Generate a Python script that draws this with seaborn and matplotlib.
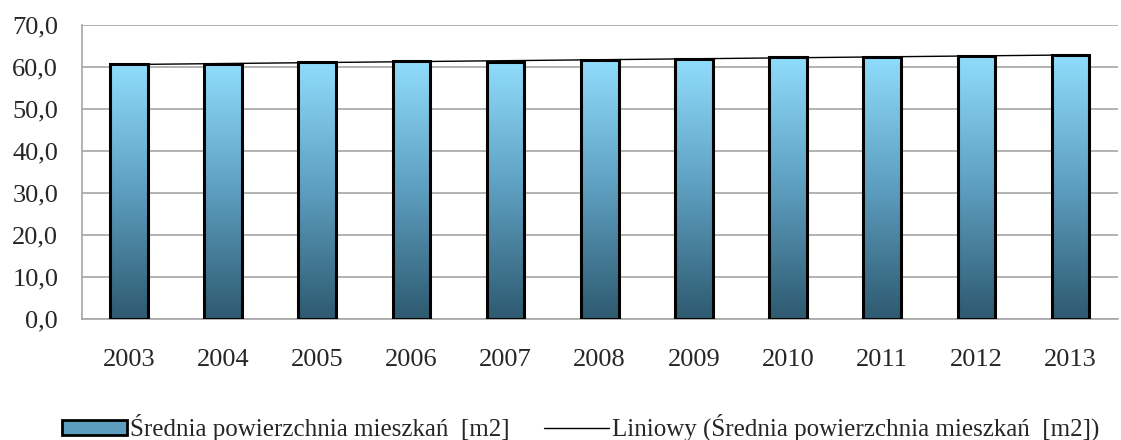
import matplotlib
matplotlib.use("Agg")
import matplotlib.pyplot as plt
import matplotlib.colors as mcolors
from matplotlib.lines import Line2D
from matplotlib.patches import Patch
import seaborn as sns
import numpy as np
import pandas as pd

years = ["2003", "2004", "2005", "2006", "2007", "2008", "2009", "2010", "2011", "2012", "2013"]
avg_area = [60.7, 60.7, 61.1, 61.4, 61.3, 61.6, 61.9, 62.5, 62.5, 62.6, 62.8]

bar_label = "Średnia powierzchnia mieszkań  [m2]"
trend_label = "Liniowy (Średnia powierzchnia mieszkań  [m2])"

sns.set_style("white")
plt.rcParams['font.family'] = ['Liberation Serif', 'DejaVu Serif']

df = pd.DataFrame({"rok": years, "pow": avg_area})

fig = plt.figure(figsize=(11.21, 4.4), dpi=100)
ax = fig.add_axes([0.073, 0.276, 0.924, 0.667])

sns.barplot(data=df, x="rok", y="pow", ax=ax, width=0.4, color="#5a9bbf",
            edgecolor="black", linewidth=2.2, zorder=3)

# vertical gradient inside each bar
grad_cmap = mcolors.LinearSegmentedColormap.from_list("bar", ["#2e5a70", "#5d9ebf", "#90dcfc"])
grad = np.linspace(0, 1, 256).reshape(-1, 1)
for bar in ax.patches:
    x0, y0 = bar.get_x(), bar.get_y()
    w, h = bar.get_width(), bar.get_height()
    im = ax.imshow(grad, cmap=grad_cmap, origin="lower", aspect="auto",
                   extent=[x0, x0 + w, y0, y0 + h], zorder=2.5)
    im.set_clip_path(bar)
    bar.set_facecolor("none")

# linear trend line
xs = np.arange(len(years))
k, b = np.polyfit(xs, avg_area, 1)
ax.plot(xs, k * xs + b, color="black", linewidth=1.0, zorder=4)

ax.set_xlim(-0.5, len(years) - 0.5)
ax.set_ylim(0, 70)
ax.set_yticks(np.arange(0, 71, 10))
ax.set_yticklabels([f"{v:.1f}".replace(".", ",") for v in np.arange(0, 71, 10)], fontsize=19)
ax.yaxis.grid(True, color="#a6a6a6", linewidth=1.2, zorder=0)
ax.set_axisbelow(True)

ax.set_xticks(xs)
ax.set_xticklabels(years, fontsize=19)
ax.tick_params(axis="x", length=0, pad=22)
ax.set_xticks(np.arange(-0.5, len(years), 1), minor=True)
ax.tick_params(axis="x", which="minor", length=7, color="#a6a6a6", width=1.2, direction="out")
ax.tick_params(axis="y", length=7, color="#a6a6a6", width=1.2, direction="out", pad=10)
ax.set_xlabel("")
ax.set_ylabel("")

for side in ["top", "right"]:
    ax.spines[side].set_visible(False)
for side in ["left", "bottom"]:
    ax.spines[side].set_color("#a6a6a6")
    ax.spines[side].set_linewidth(1.2)

handles = [Patch(facecolor="#5d9ebf", edgecolor="black", linewidth=2),
           Line2D([0], [0], color="black", linewidth=1.0)]
fig.legend(handles, [bar_label, trend_label], loc="center", bbox_to_anchor=(0.518, 0.028),
           ncol=2, frameon=False, fontsize=18, handlelength=2.6, handleheight=0.55,
           handletextpad=0.1, columnspacing=1.4)

fig.savefig("out.png", dpi=100)
